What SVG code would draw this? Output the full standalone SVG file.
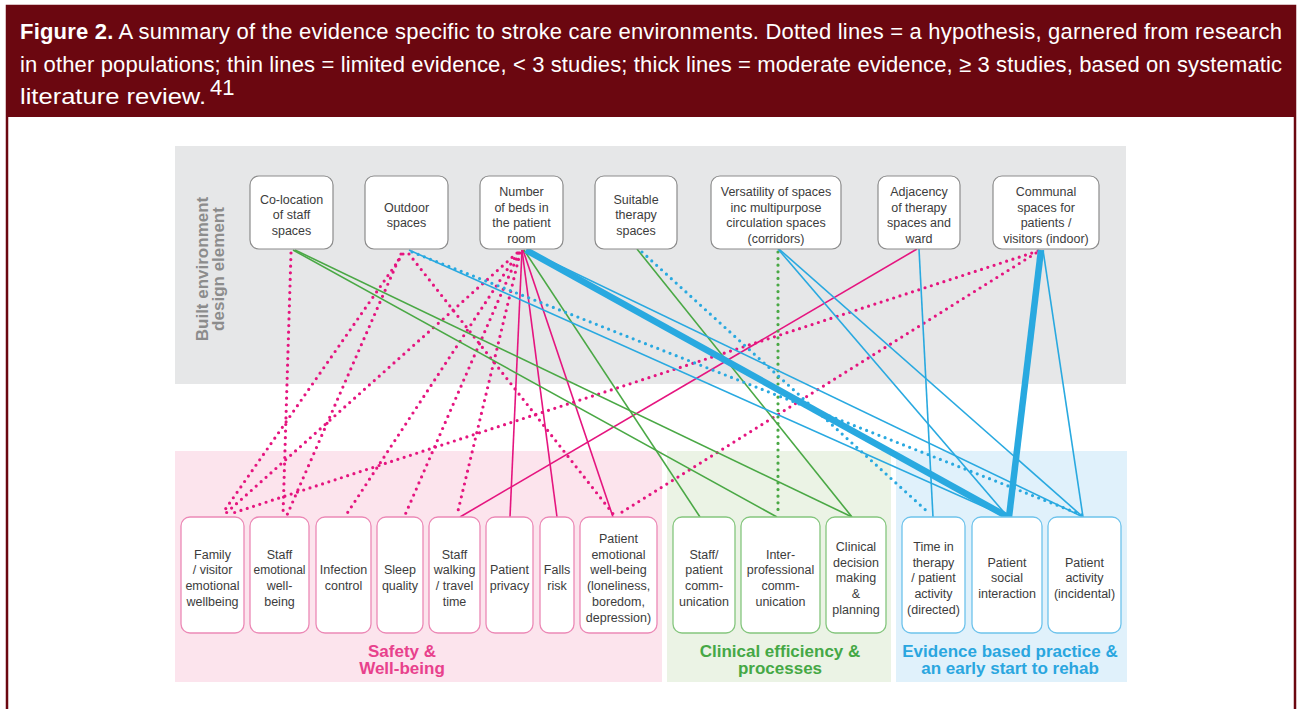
<svg xmlns="http://www.w3.org/2000/svg" width="1312" height="709" viewBox="0 0 1312 709">
<style>
.hdr{font-family:"Liberation Sans",Arial,sans-serif;font-size:22px;fill:#ffffff}
.tb{fill:#ffffff;stroke:#8c8c8c;stroke-width:1.2}
.bp{fill:#ffffff;stroke:#ec89b6;stroke-width:1.3}
.bg{fill:#ffffff;stroke:#85c67e;stroke-width:1.3}
.bb{fill:#ffffff;stroke:#6ec3ec;stroke-width:1.3}
.nt{font-family:"Liberation Sans",Arial,sans-serif;font-size:12.5px;fill:#3c3c3c;text-anchor:middle}
.cat{font-family:"Liberation Sans",Arial,sans-serif;font-size:17px;font-weight:bold;text-anchor:middle}
.vl{font-family:"Liberation Sans",Arial,sans-serif;font-size:17px;font-weight:bold;fill:#8c8c8c;text-anchor:middle}
.ps{stroke:#e5157f;stroke-width:1.6;fill:none}
.pd{stroke:#e5157f;stroke-width:3.2;stroke-linecap:round;stroke-dasharray:0 6.6;fill:none}
.gs{stroke:#4aa845;stroke-width:1.6;fill:none}
.gd{stroke:#4aa845;stroke-width:3.2;stroke-linecap:round;stroke-dasharray:0 6.6;fill:none}
.ls{stroke:#29a9e0;stroke-width:1.6;fill:none}
.ld{stroke:#29a9e0;stroke-width:3.2;stroke-linecap:round;stroke-dasharray:0 6.6;fill:none}
.lt{stroke:#29a9e0;stroke-width:6.5;fill:none}
</style>
<rect x="0" y="0" width="1312" height="709" fill="#ffffff"/>
<!-- frame and header -->
<rect x="7" y="6" width="1288" height="720" fill="none" stroke="#6b0710" stroke-width="2.5"/>
<rect x="6" y="5" width="1290" height="112" fill="#6b0710"/>
<text class="hdr" x="20" y="39" textLength="1262" lengthAdjust="spacing"><tspan font-weight="bold">Figure 2.</tspan>  A summary of the evidence specific to stroke care environments. Dotted lines = a hypothesis, garnered from research</text>
<text class="hdr" x="20" y="72" textLength="1262" lengthAdjust="spacing">in other populations; thin lines = limited evidence, &lt; 3 studies; thick lines = moderate evidence, ≥ 3 studies, based on systematic</text>
<text class="hdr" x="20" y="104" textLength="186" lengthAdjust="spacingAndGlyphs">literature review.</text>
<text class="hdr" x="210" y="95" font-size="11">41</text>

<!-- bands -->
<rect x="175" y="146" width="951" height="238" fill="#e6e7e8"/>
<rect x="175" y="451" width="487" height="231" fill="#fce4ed"/>
<rect x="667" y="451" width="224" height="231" fill="#ebf3e5"/>
<rect x="896" y="451" width="231" height="231" fill="#e0f1fb"/>
<text class="vl" transform="translate(208,269) rotate(-90)">Built environment</text>
<text class="vl" transform="translate(224,269) rotate(-90)">design element</text>

<!-- connectors -->
<g id="connectors">
<line class="pd" x1="291" y1="253" x2="283" y2="515"/>
<line class="pd" x1="403" y1="254" x2="222" y2="514"/>
<line class="pd" x1="401" y1="254" x2="287" y2="515"/>
<line class="pd" x1="409" y1="254" x2="614" y2="515"/>
<line class="pd" x1="517" y1="253" x2="225" y2="514"/>
<line class="pd" x1="518" y1="253" x2="346" y2="515"/>
<line class="pd" x1="519" y1="253" x2="405" y2="515"/>
<line class="pd" x1="520" y1="253" x2="457" y2="515"/>
<line class="pd" x1="1038" y1="251" x2="230" y2="514"/>
<line class="pd" x1="1036" y1="253" x2="619" y2="514"/>
<line class="ps" x1="522" y1="250" x2="510" y2="517"/>
<line class="ps" x1="522" y1="250" x2="557" y2="517"/>
<line class="ps" x1="523" y1="250" x2="613" y2="517"/>
<line class="ps" x1="917" y1="249" x2="460" y2="517"/>
<line class="gs" x1="293" y1="250" x2="777" y2="517"/>
<line class="gs" x1="295" y1="250" x2="852" y2="517"/>
<line class="gs" x1="524" y1="250" x2="700" y2="517"/>
<line class="gs" x1="637" y1="249" x2="852" y2="517"/>
<line class="gd" x1="778" y1="252" x2="778" y2="514"/>
<line class="ls" x1="409" y1="250" x2="1007" y2="517"/>
<line class="ls" x1="527" y1="250" x2="1083" y2="517"/>
<line class="ls" x1="778" y1="249" x2="1008" y2="517"/>
<line class="ls" x1="779" y1="249" x2="1083" y2="517"/>
<line class="ls" x1="919" y1="249" x2="933" y2="517"/>
<line class="ls" x1="1043" y1="250" x2="1083" y2="517"/>
<line class="ld" x1="412" y1="252" x2="1082" y2="515"/>
<line class="ld" x1="642" y1="252" x2="930" y2="514"/>
<line class="lt" x1="526" y1="250" x2="1008" y2="517"/>
<line class="lt" x1="1041" y1="250" x2="1009" y2="517"/>
</g>

<!-- top nodes -->
<g id="n-colocation"><rect class="tb" x="250" y="176" width="83" height="73" rx="9"/>
<text class="nt"><tspan x="291.5" y="203.8">Co-location</tspan><tspan x="291.5" y="219.3">of staff</tspan><tspan x="291.5" y="234.8">spaces</tspan></text></g>
<g id="n-outdoor"><rect class="tb" x="365" y="176" width="83" height="73" rx="9"/>
<text class="nt"><tspan x="406.5" y="211.5">Outdoor</tspan><tspan x="406.5" y="227">spaces</tspan></text></g>
<g id="n-beds"><rect class="tb" x="480" y="176" width="83" height="73" rx="9"/>
<text class="nt"><tspan x="521.5" y="196">Number</tspan><tspan x="521.5" y="211.5">of beds in</tspan><tspan x="521.5" y="227">the patient</tspan><tspan x="521.5" y="242.5">room</tspan></text></g>
<g id="n-suitable"><rect class="tb" x="595" y="176" width="82" height="73" rx="9"/>
<text class="nt"><tspan x="636" y="203.8">Suitable</tspan><tspan x="636" y="219.3">therapy</tspan><tspan x="636" y="234.8">spaces</tspan></text></g>
<g id="n-versatility"><rect class="tb" x="711" y="176" width="130" height="73" rx="9"/>
<text class="nt"><tspan x="776" y="196">Versatility of spaces</tspan><tspan x="776" y="211.5">inc multipurpose</tspan><tspan x="776" y="227">circulation spaces</tspan><tspan x="776" y="242.5">(corridors)</tspan></text></g>
<g id="n-adjacency"><rect class="tb" x="878" y="176" width="82" height="73" rx="9"/>
<text class="nt"><tspan x="919" y="196">Adjacency</tspan><tspan x="919" y="211.5">of therapy</tspan><tspan x="919" y="227">spaces and</tspan><tspan x="919" y="242.5">ward</tspan></text></g>
<g id="n-communal"><rect class="tb" x="993" y="176" width="106" height="73" rx="9"/>
<text class="nt"><tspan x="1046" y="196">Communal</tspan><tspan x="1046" y="211.5">spaces for</tspan><tspan x="1046" y="227">patients /</tspan><tspan x="1046" y="242.5">visitors (indoor)</tspan></text></g>

<!-- bottom nodes -->
<g id="b-family"><rect class="bp" x="181" y="517" width="63" height="116" rx="9"/>
<text class="nt"><tspan x="212.5" y="558.7">Family</tspan><tspan x="212.5" y="574.4">/ visitor</tspan><tspan x="212.5" y="590.1">emotional</tspan><tspan x="212.5" y="605.8">wellbeing</tspan></text></g>
<g id="b-staffemo"><rect class="bp" x="250" y="517" width="59" height="116" rx="9"/>
<text class="nt"><tspan x="279.5" y="558.7">Staff</tspan><tspan x="279.5" y="574.4" textLength="52" lengthAdjust="spacingAndGlyphs">emotional</tspan><tspan x="279.5" y="590.1">well-</tspan><tspan x="279.5" y="605.8">being</tspan></text></g>
<g id="b-infection"><rect class="bp" x="316" y="517" width="55" height="116" rx="9"/>
<text class="nt"><tspan x="343.5" y="574.4">Infection</tspan><tspan x="343.5" y="590.1">control</tspan></text></g>
<g id="b-sleep"><rect class="bp" x="377" y="517" width="46" height="116" rx="9"/>
<text class="nt"><tspan x="400" y="574.4">Sleep</tspan><tspan x="400" y="590.1">quality</tspan></text></g>
<g id="b-walking"><rect class="bp" x="429" y="517" width="51" height="116" rx="9"/>
<text class="nt"><tspan x="454.5" y="558.7">Staff</tspan><tspan x="454.5" y="574.4">walking</tspan><tspan x="454.5" y="590.1">/ travel</tspan><tspan x="454.5" y="605.8">time</tspan></text></g>
<g id="b-privacy"><rect class="bp" x="486" y="517" width="47" height="116" rx="9"/>
<text class="nt"><tspan x="509.5" y="574.4">Patient</tspan><tspan x="509.5" y="590.1">privacy</tspan></text></g>
<g id="b-falls"><rect class="bp" x="540" y="517" width="34" height="116" rx="9"/>
<text class="nt"><tspan x="557" y="574.4">Falls</tspan><tspan x="557" y="590.1">risk</tspan></text></g>
<g id="b-patemo"><rect class="bp" x="580" y="517" width="77" height="116" rx="9"/>
<text class="nt"><tspan x="618.5" y="543">Patient</tspan><tspan x="618.5" y="558.7">emotional</tspan><tspan x="618.5" y="574.4">well-being</tspan><tspan x="618.5" y="590.1">(loneliness,</tspan><tspan x="618.5" y="605.8">boredom,</tspan><tspan x="618.5" y="621.5">depression)</tspan></text></g>
<g id="b-staffpatient"><rect class="bg" x="673" y="517" width="62" height="116" rx="9"/>
<text class="nt"><tspan x="704" y="558.7">Staff/</tspan><tspan x="704" y="574.4">patient</tspan><tspan x="704" y="590.1">comm-</tspan><tspan x="704" y="605.8">unication</tspan></text></g>
<g id="b-interprof"><rect class="bg" x="741" y="517" width="79" height="116" rx="9"/>
<text class="nt"><tspan x="780.5" y="558.7">Inter-</tspan><tspan x="780.5" y="574.4">professional</tspan><tspan x="780.5" y="590.1">comm-</tspan><tspan x="780.5" y="605.8">unication</tspan></text></g>
<g id="b-clinical"><rect class="bg" x="826" y="517" width="60" height="116" rx="9"/>
<text class="nt"><tspan x="856" y="550.9">Clinical</tspan><tspan x="856" y="566.6">decision</tspan><tspan x="856" y="582.3">making</tspan><tspan x="856" y="598">&amp;</tspan><tspan x="856" y="613.7">planning</tspan></text></g>
<g id="b-time"><rect class="bb" x="902" y="517" width="63" height="116" rx="9"/>
<text class="nt"><tspan x="933.5" y="550.9">Time in</tspan><tspan x="933.5" y="566.6">therapy</tspan><tspan x="933.5" y="582.3">/ patient</tspan><tspan x="933.5" y="598">activity</tspan><tspan x="933.5" y="613.7">(directed)</tspan></text></g>
<g id="b-social"><rect class="bb" x="972" y="517" width="70" height="116" rx="9"/>
<text class="nt"><tspan x="1007" y="566.6">Patient</tspan><tspan x="1007" y="582.3">social</tspan><tspan x="1007" y="598">interaction</tspan></text></g>
<g id="b-activity"><rect class="bb" x="1048" y="517" width="73" height="116" rx="9"/>
<text class="nt"><tspan x="1084.5" y="566.6">Patient</tspan><tspan x="1084.5" y="582.3">activity</tspan><tspan x="1084.5" y="598">(incidental)</tspan></text></g>

<!-- category labels -->
<text class="cat" fill="#e8418c"><tspan x="402" y="657">Safety &amp;</tspan><tspan x="402" y="674">Well-being</tspan></text>
<text class="cat" fill="#45a845"><tspan x="780" y="657">Clinical efficiency &amp;</tspan><tspan x="780" y="674">processes</tspan></text>
<text class="cat" fill="#2aa6df"><tspan x="1010" y="657">Evidence based practice &amp;</tspan><tspan x="1010" y="674">an early start to rehab</tspan></text>
</svg>
